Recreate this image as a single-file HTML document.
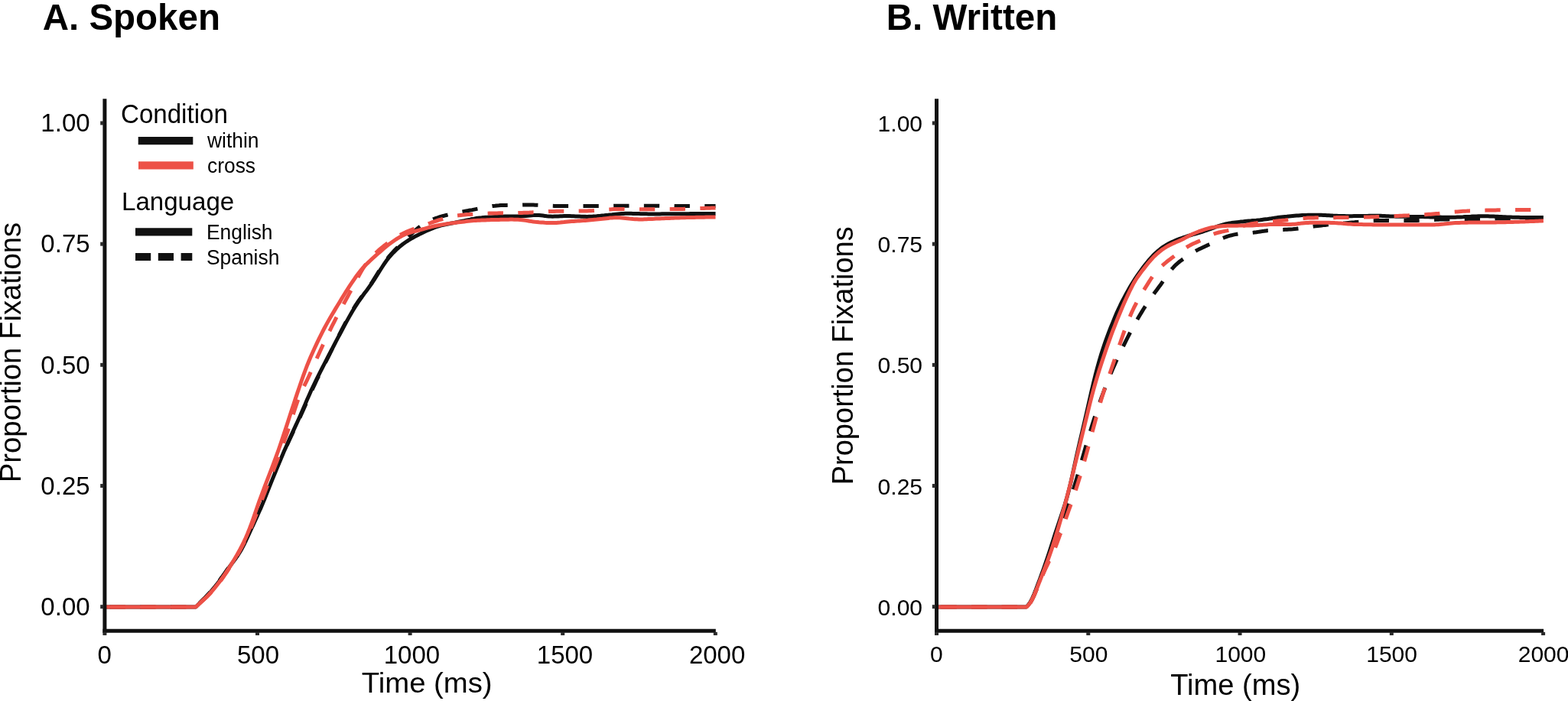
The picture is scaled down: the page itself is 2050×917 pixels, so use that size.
<!DOCTYPE html>
<html lang="en"><head><meta charset="utf-8"><title>Proportion Fixations</title>
<style>
html,body{margin:0;padding:0;background:#fff;}
body{width:2050px;height:917px;overflow:hidden;}
svg{display:block;font-family:"Liberation Sans", Arial, Helvetica, sans-serif;}
</style></head><body>
<svg width="2050" height="917" viewBox="0 0 2050 917">
<rect width="2050" height="917" fill="#fff"/>
<text transform="translate(55.70,39.30) scale(1.0,1.03)" font-size="47.5" text-anchor="start" font-weight="bold" fill="#000">A. Spoken</text>
<path d="M136.9,794.0 L256.0,793.9 L258.5,791.3 L261.0,788.8 L263.5,786.3 L266.0,783.9 L268.5,781.4 L271.0,778.7 L273.6,775.9 L276.1,773.0 L278.6,770.0 L281.1,766.9 L283.6,763.7 L286.1,760.5 L288.6,757.1 L291.1,753.6 L293.6,750.1 L296.1,746.5 L298.6,743.0 L301.1,739.5 L303.6,736.0 L306.1,732.6 L308.7,729.0 L311.2,725.3 L313.7,721.2 L316.2,716.8 L318.7,711.9 L321.2,706.7 L323.7,701.4 L326.2,695.9 L328.7,690.4 L331.2,685.0 L333.7,679.5 L336.2,674.0 L338.7,668.3 L341.3,662.5 L343.8,656.5 L346.3,650.4 L348.8,644.1 L351.3,637.8 L353.8,631.6 L356.3,625.4 L358.8,619.4 L361.3,613.4 L363.8,607.6 L366.3,601.8 L368.8,596.2 L371.3,590.6 L373.8,585.1 L376.4,579.7 L378.9,574.3 L381.4,568.9 L383.9,563.5 L386.4,558.2 L388.9,552.9 L391.4,547.5 L393.9,542.0 L396.4,536.4 L398.9,530.7 L401.4,525.0 L403.9,519.2 L406.4,513.5 L409.0,508.0 L411.5,502.6 L414.0,497.3 L416.5,492.1 L419.0,487.0 L421.5,482.0 L424.0,477.0 L426.5,472.1 L429.0,467.1 L431.5,462.1 L434.0,457.0 L436.5,452.0 L439.0,446.9 L441.5,441.9 L444.1,436.9 L446.6,432.0 L449.1,427.2 L451.6,422.5 L454.1,417.8 L456.6,413.3 L459.1,409.0 L461.6,404.8 L464.1,400.7 L466.6,396.9 L469.1,393.2 L471.6,389.7 L474.1,386.3 L476.6,382.9 L479.2,379.5 L481.7,376.0 L484.2,372.5 L486.7,368.8 L489.2,364.9 L491.7,360.9 L494.2,356.9 L496.7,352.8 L499.2,348.9 L501.7,345.1 L504.2,341.5 L506.7,338.1 L509.2,334.9 L511.8,331.9 L514.3,329.2 L516.8,326.5 L519.3,324.0 L521.8,321.6 L524.3,319.2 L526.8,316.8 L529.3,314.4 L531.8,311.9 L534.3,309.5 L536.8,307.0 L539.3,304.6 L541.8,302.3 L544.3,300.1 L546.9,298.0 L549.4,296.2 L551.9,294.4 L554.4,292.8 L556.9,291.3 L559.4,290.0 L561.9,288.8 L564.4,287.6 L566.9,286.6 L569.4,285.7 L571.9,284.8 L574.4,284.0 L576.9,283.2 L579.5,282.5 L582.0,281.8 L584.5,281.2 L587.0,280.5 L589.5,280.0 L592.0,279.4 L594.5,278.9 L597.0,278.3 L599.5,277.8 L602.0,277.3 L604.5,276.9 L607.0,276.4 L609.5,275.9 L612.0,275.5 L614.6,275.0 L617.1,274.6 L619.6,274.1 L622.1,273.6 L624.6,273.1 L627.1,272.6 L629.6,272.0 L632.1,271.5 L634.6,271.1 L637.1,270.6 L639.6,270.2 L642.1,269.8 L644.6,269.4 L647.2,269.2 L649.7,268.9 L652.2,268.8 L654.7,268.6 L657.2,268.5 L659.7,268.5 L662.2,268.4 L664.7,268.3 L667.2,268.3 L669.7,268.2 L672.2,268.2 L674.7,268.2 L677.2,268.1 L679.7,268.1 L682.3,268.1 L684.8,268.0 L687.3,268.0 L689.8,268.0 L692.3,268.0 L694.8,268.1 L697.3,268.1 L699.8,268.2 L702.3,268.3 L704.8,268.4 L707.3,268.5 L709.8,268.6 L712.3,268.8 L714.9,268.9 L717.4,269.0 L719.9,269.2 L722.4,269.3 L724.9,269.4 L727.4,269.5 L729.9,269.5 L732.4,269.6 L734.9,269.6 L737.4,269.6 L739.9,269.6 L742.4,269.6 L744.9,269.6 L747.4,269.6 L750.0,269.6 L752.5,269.6 L755.0,269.6 L757.5,269.6 L760.0,269.5 L762.5,269.5 L765.0,269.5 L767.5,269.5 L770.0,269.5 L772.5,269.5 L775.0,269.5 L777.5,269.5 L780.0,269.4 L782.5,269.4 L785.1,269.4 L787.6,269.4 L790.1,269.4 L792.6,269.3 L795.1,269.3 L797.6,269.3 L800.1,269.3 L802.6,269.2 L805.1,269.2 L807.6,269.2 L810.1,269.2 L812.6,269.2 L815.1,269.2 L817.7,269.2 L820.2,269.2 L822.7,269.2 L825.2,269.2 L827.7,269.2 L830.2,269.2 L832.7,269.2 L835.2,269.2 L837.7,269.2 L840.2,269.2 L842.7,269.2 L845.2,269.2 L847.7,269.2 L850.2,269.2 L852.8,269.2 L855.3,269.2 L857.8,269.2 L860.3,269.2 L862.8,269.3 L865.3,269.3 L867.8,269.3 L870.3,269.3 L872.8,269.4 L875.3,269.4 L877.8,269.4 L880.3,269.4 L882.8,269.5 L885.4,269.5 L887.9,269.5 L890.4,269.5 L892.9,269.5 L895.4,269.5 L897.9,269.5 L900.4,269.5 L902.9,269.5 L905.4,269.5 L907.9,269.5 L910.4,269.5 L912.9,269.5 L915.4,269.5 L917.9,269.5 L920.5,269.5 L923.0,269.5 L925.5,269.5 L928.0,269.5 L930.5,269.5 L933.0,269.5 L935.5,269.5" stroke="#111111" stroke-width="5.0" fill="none" stroke-linejoin="round" stroke-dasharray="20.3,19.4" stroke-dashoffset="33.0"/>
<path d="M136.9,794.0 L256.0,793.9 L258.5,791.4 L261.0,788.9 L263.5,786.5 L266.0,784.1 L268.5,781.6 L271.0,779.0 L273.6,776.2 L276.1,773.4 L278.6,770.4 L281.1,767.4 L283.6,764.2 L286.1,761.0 L288.6,757.6 L291.1,754.2 L293.6,750.6 L296.1,747.1 L298.6,743.5 L301.1,740.1 L303.6,736.6 L306.1,733.2 L308.7,729.7 L311.2,726.0 L313.7,722.0 L316.2,717.7 L318.7,712.9 L321.2,707.8 L323.7,702.4 L326.2,697.0 L328.7,691.5 L331.2,686.1 L333.7,680.6 L336.2,675.2 L338.7,669.6 L341.3,663.9 L343.8,657.9 L346.3,651.7 L348.8,645.4 L351.3,639.1 L353.8,632.8 L356.3,626.6 L358.8,620.5 L361.3,614.4 L363.8,608.4 L366.3,602.4 L368.8,596.5 L371.3,590.6 L373.8,584.9 L376.4,579.2 L378.9,573.6 L381.4,568.0 L383.9,562.6 L386.4,557.1 L388.9,551.7 L391.4,546.2 L393.9,540.6 L396.4,534.8 L398.9,529.0 L401.4,523.1 L403.9,517.4 L406.4,511.7 L409.0,506.3 L411.5,501.0 L414.0,495.9 L416.5,490.8 L419.0,485.9 L421.5,481.0 L424.0,476.2 L426.5,471.3 L429.0,466.5 L431.5,461.7 L434.0,456.8 L436.5,452.0 L439.0,447.1 L441.5,442.3 L444.1,437.5 L446.6,432.8 L449.1,428.1 L451.6,423.4 L454.1,418.9 L456.6,414.4 L459.1,410.0 L461.6,405.8 L464.1,401.7 L466.6,397.8 L469.1,394.0 L471.6,390.5 L474.1,387.0 L476.6,383.6 L479.2,380.2 L481.7,376.8 L484.2,373.3 L486.7,369.7 L489.2,365.9 L491.7,361.9 L494.2,357.9 L496.7,353.9 L499.2,350.0 L501.7,346.2 L504.2,342.5 L506.7,339.1 L509.2,336.0 L511.8,333.1 L514.3,330.4 L516.8,327.9 L519.3,325.5 L521.8,323.3 L524.3,321.3 L526.8,319.3 L529.3,317.5 L531.8,315.8 L534.3,314.2 L536.8,312.6 L539.3,311.2 L541.8,309.8 L544.3,308.5 L546.9,307.2 L549.4,305.9 L551.9,304.7 L554.4,303.5 L556.9,302.3 L559.4,301.2 L561.9,300.1 L564.4,299.1 L566.9,298.1 L569.4,297.2 L571.9,296.4 L574.4,295.6 L576.9,294.9 L579.5,294.3 L582.0,293.7 L584.5,293.2 L587.0,292.7 L589.5,292.2 L592.0,291.7 L594.5,291.3 L597.0,290.8 L599.5,290.3 L602.0,289.8 L604.5,289.3 L607.0,288.8 L609.5,288.2 L612.0,287.6 L614.6,287.1 L617.1,286.5 L619.6,286.1 L622.1,285.6 L624.6,285.3 L627.1,285.0 L629.6,284.8 L632.1,284.5 L634.6,284.3 L637.1,284.2 L639.6,284.0 L642.1,283.9 L644.6,283.7 L647.2,283.6 L649.7,283.5 L652.2,283.4 L654.7,283.3 L657.2,283.2 L659.7,283.1 L662.2,283.0 L664.7,282.9 L667.2,282.9 L669.7,282.9 L672.2,282.9 L674.7,282.9 L677.2,282.9 L679.7,282.9 L682.3,282.8 L684.8,282.6 L687.3,282.5 L689.8,282.2 L692.3,282.0 L694.8,281.7 L697.3,281.5 L699.8,281.4 L702.3,281.4 L704.8,281.5 L707.3,281.8 L709.8,282.1 L712.3,282.4 L714.9,282.8 L717.4,283.0 L719.9,283.1 L722.4,283.2 L724.9,283.1 L727.4,283.1 L729.9,282.9 L732.4,282.8 L734.9,282.7 L737.4,282.6 L739.9,282.6 L742.4,282.6 L744.9,282.6 L747.4,282.7 L750.0,282.8 L752.5,282.9 L755.0,283.0 L757.5,283.1 L760.0,283.2 L762.5,283.3 L765.0,283.3 L767.5,283.4 L770.0,283.3 L772.5,283.2 L775.0,283.1 L777.5,282.9 L780.0,282.7 L782.5,282.4 L785.1,282.2 L787.6,281.9 L790.1,281.7 L792.6,281.4 L795.1,281.2 L797.6,280.9 L800.1,280.7 L802.6,280.4 L805.1,280.2 L807.6,280.0 L810.1,279.8 L812.6,279.6 L815.1,279.4 L817.7,279.3 L820.2,279.3 L822.7,279.3 L825.2,279.3 L827.7,279.4 L830.2,279.4 L832.7,279.5 L835.2,279.6 L837.7,279.7 L840.2,279.7 L842.7,279.8 L845.2,279.8 L847.7,279.9 L850.2,279.9 L852.8,279.9 L855.3,279.9 L857.8,279.9 L860.3,279.9 L862.8,279.9 L865.3,279.8 L867.8,279.8 L870.3,279.8 L872.8,279.8 L875.3,279.8 L877.8,279.8 L880.3,279.8 L882.8,279.7 L885.4,279.7 L887.9,279.7 L890.4,279.7 L892.9,279.7 L895.4,279.7 L897.9,279.7 L900.4,279.7 L902.9,279.6 L905.4,279.6 L907.9,279.6 L910.4,279.6 L912.9,279.6 L915.4,279.6 L917.9,279.6 L920.5,279.6 L923.0,279.6 L925.5,279.5 L928.0,279.5 L930.5,279.5 L933.0,279.5 L935.5,279.5" stroke="#111111" stroke-width="5.0" fill="none" stroke-linejoin="round"/>
<path d="M136.9,794.0 L256.0,793.9 L258.5,791.6 L261.0,789.3 L263.5,787.0 L266.0,784.8 L268.5,782.5 L271.0,780.1 L273.6,777.5 L276.1,774.8 L278.6,771.9 L281.1,769.0 L283.6,765.9 L286.1,762.7 L288.6,759.4 L291.1,756.0 L293.6,752.4 L296.1,748.8 L298.6,745.0 L301.1,741.1 L303.6,737.2 L306.1,733.0 L308.7,728.8 L311.2,724.5 L313.7,720.0 L316.2,715.4 L318.7,710.6 L321.2,705.6 L323.7,700.4 L326.2,694.8 L328.7,688.9 L331.2,682.8 L333.7,676.5 L336.2,670.0 L338.7,663.4 L341.3,656.8 L343.8,650.2 L346.3,643.6 L348.8,637.1 L351.3,630.7 L353.8,624.3 L356.3,617.9 L358.8,611.5 L361.3,605.0 L363.8,598.5 L366.3,591.8 L368.8,585.0 L371.3,577.9 L373.8,570.7 L376.4,563.3 L378.9,555.7 L381.4,547.9 L383.9,540.1 L386.4,532.4 L388.9,525.2 L391.4,518.6 L393.9,512.8 L396.4,507.5 L398.9,502.4 L401.4,497.3 L403.9,492.0 L406.4,486.4 L409.0,480.8 L411.5,475.0 L414.0,469.3 L416.5,463.7 L419.0,458.2 L421.5,452.7 L424.0,447.4 L426.5,442.1 L429.0,436.9 L431.5,431.8 L434.0,426.7 L436.5,421.8 L439.0,416.9 L441.5,412.1 L444.1,407.3 L446.6,402.6 L449.1,398.0 L451.6,393.3 L454.1,388.7 L456.6,384.1 L459.1,379.5 L461.6,374.9 L464.1,370.2 L466.6,365.5 L469.1,360.8 L471.6,356.2 L474.1,352.0 L476.6,348.1 L479.2,344.6 L481.7,341.4 L484.2,338.4 L486.7,335.7 L489.2,333.1 L491.7,330.6 L494.2,328.2 L496.7,326.0 L499.2,323.9 L501.7,321.8 L504.2,319.9 L506.7,318.0 L509.2,316.2 L511.8,314.4 L514.3,312.7 L516.8,311.1 L519.3,309.6 L521.8,308.1 L524.3,306.7 L526.8,305.4 L529.3,304.2 L531.8,303.1 L534.3,302.1 L536.8,301.1 L539.3,300.2 L541.8,299.3 L544.3,298.4 L546.9,297.6 L549.4,296.7 L551.9,295.7 L554.4,294.8 L556.9,293.9 L559.4,292.9 L561.9,292.0 L564.4,291.0 L566.9,290.2 L569.4,289.3 L571.9,288.5 L574.4,287.7 L576.9,287.0 L579.5,286.2 L582.0,285.5 L584.5,284.8 L587.0,284.2 L589.5,283.6 L592.0,283.0 L594.5,282.5 L597.0,282.1 L599.5,281.8 L602.0,281.5 L604.5,281.2 L607.0,281.0 L609.5,280.8 L612.0,280.6 L614.6,280.4 L617.1,280.3 L619.6,280.1 L622.1,280.0 L624.6,279.8 L627.1,279.7 L629.6,279.6 L632.1,279.4 L634.6,279.3 L637.1,279.2 L639.6,279.1 L642.1,279.1 L644.6,279.0 L647.2,278.9 L649.7,278.9 L652.2,278.8 L654.7,278.8 L657.2,278.7 L659.7,278.7 L662.2,278.7 L664.7,278.6 L667.2,278.6 L669.7,278.6 L672.2,278.6 L674.7,278.5 L677.2,278.5 L679.7,278.4 L682.3,278.4 L684.8,278.3 L687.3,278.3 L689.8,278.2 L692.3,278.1 L694.8,277.9 L697.3,277.8 L699.8,277.7 L702.3,277.5 L704.8,277.4 L707.3,277.2 L709.8,277.1 L712.3,276.9 L714.9,276.8 L717.4,276.6 L719.9,276.5 L722.4,276.4 L724.9,276.4 L727.4,276.3 L729.9,276.3 L732.4,276.3 L734.9,276.2 L737.4,276.2 L739.9,276.2 L742.4,276.2 L744.9,276.2 L747.4,276.2 L750.0,276.2 L752.5,276.1 L755.0,276.1 L757.5,276.1 L760.0,276.1 L762.5,276.0 L765.0,276.0 L767.5,275.9 L770.0,275.8 L772.5,275.7 L775.0,275.6 L777.5,275.4 L780.0,275.2 L782.5,275.0 L785.1,274.8 L787.6,274.6 L790.1,274.4 L792.6,274.2 L795.1,274.0 L797.6,273.9 L800.1,273.7 L802.6,273.6 L805.1,273.6 L807.6,273.5 L810.1,273.5 L812.6,273.5 L815.1,273.5 L817.7,273.6 L820.2,273.6 L822.7,273.6 L825.2,273.6 L827.7,273.7 L830.2,273.7 L832.7,273.7 L835.2,273.7 L837.7,273.8 L840.2,273.8 L842.7,273.8 L845.2,273.8 L847.7,273.8 L850.2,273.8 L852.8,273.8 L855.3,273.8 L857.8,273.8 L860.3,273.8 L862.8,273.7 L865.3,273.7 L867.8,273.7 L870.3,273.7 L872.8,273.7 L875.3,273.6 L877.8,273.6 L880.3,273.6 L882.8,273.5 L885.4,273.5 L887.9,273.5 L890.4,273.4 L892.9,273.4 L895.4,273.3 L897.9,273.2 L900.4,273.1 L902.9,273.1 L905.4,273.0 L907.9,272.9 L910.4,272.8 L912.9,272.7 L915.4,272.6 L917.9,272.5 L920.5,272.4 L923.0,272.3 L925.5,272.2 L928.0,272.2 L930.5,272.1 L933.0,272.1 L935.5,272.0" stroke="#ED5147" stroke-width="5.0" fill="none" stroke-linejoin="round" stroke-dasharray="20.3,19.4" stroke-dashoffset="32.1"/>
<path d="M136.9,794.0 L256.0,793.9 L258.5,791.6 L261.0,789.3 L263.5,787.0 L266.0,784.7 L268.5,782.4 L271.0,779.9 L273.6,777.2 L276.1,774.5 L278.6,771.6 L281.1,768.6 L283.6,765.5 L286.1,762.3 L288.6,758.9 L291.1,755.5 L293.6,751.9 L296.1,748.2 L298.6,744.3 L301.1,740.4 L303.6,736.3 L306.1,732.2 L308.7,727.9 L311.2,723.4 L313.7,718.9 L316.2,714.1 L318.7,709.1 L321.2,703.7 L323.7,697.9 L326.2,691.7 L328.7,685.0 L331.2,678.0 L333.7,670.8 L336.2,663.5 L338.7,656.4 L341.3,649.4 L343.8,642.6 L346.3,636.0 L348.8,629.5 L351.3,623.0 L353.8,616.5 L356.3,609.9 L358.8,603.2 L361.3,596.4 L363.8,589.5 L366.3,582.3 L368.8,574.9 L371.3,567.4 L373.8,559.7 L376.4,551.9 L378.9,544.1 L381.4,536.3 L383.9,528.7 L386.4,521.1 L388.9,513.6 L391.4,506.3 L393.9,499.0 L396.4,491.9 L398.9,485.0 L401.4,478.4 L403.9,472.2 L406.4,466.2 L409.0,460.5 L411.5,454.9 L414.0,449.6 L416.5,444.4 L419.0,439.3 L421.5,434.3 L424.0,429.5 L426.5,424.9 L429.0,420.4 L431.5,416.0 L434.0,411.7 L436.5,407.6 L439.0,403.4 L441.5,399.3 L444.1,395.1 L446.6,390.9 L449.1,386.8 L451.6,382.7 L454.1,378.8 L456.6,374.9 L459.1,371.1 L461.6,367.5 L464.1,363.8 L466.6,360.3 L469.1,357.0 L471.6,353.8 L474.1,350.8 L476.6,348.1 L479.2,345.5 L481.7,343.1 L484.2,340.7 L486.7,338.4 L489.2,336.2 L491.7,333.9 L494.2,331.7 L496.7,329.5 L499.2,327.3 L501.7,325.1 L504.2,323.0 L506.7,321.0 L509.2,319.1 L511.8,317.3 L514.3,315.5 L516.8,313.8 L519.3,312.1 L521.8,310.6 L524.3,309.2 L526.8,307.9 L529.3,306.8 L531.8,305.8 L534.3,304.9 L536.8,304.1 L539.3,303.4 L541.8,302.7 L544.3,302.0 L546.9,301.3 L549.4,300.6 L551.9,300.0 L554.4,299.3 L556.9,298.6 L559.4,297.9 L561.9,297.3 L564.4,296.6 L566.9,296.0 L569.4,295.5 L571.9,295.0 L574.4,294.5 L576.9,294.0 L579.5,293.6 L582.0,293.2 L584.5,292.8 L587.0,292.4 L589.5,292.0 L592.0,291.7 L594.5,291.4 L597.0,291.1 L599.5,290.8 L602.0,290.5 L604.5,290.2 L607.0,289.9 L609.5,289.6 L612.0,289.3 L614.6,289.1 L617.1,288.8 L619.6,288.6 L622.1,288.4 L624.6,288.3 L627.1,288.2 L629.6,288.0 L632.1,287.9 L634.6,287.9 L637.1,287.8 L639.6,287.7 L642.1,287.6 L644.6,287.6 L647.2,287.5 L649.7,287.4 L652.2,287.4 L654.7,287.3 L657.2,287.3 L659.7,287.2 L662.2,287.2 L664.7,287.2 L667.2,287.1 L669.7,287.1 L672.2,287.2 L674.7,287.2 L677.2,287.3 L679.7,287.5 L682.3,287.7 L684.8,288.0 L687.3,288.4 L689.8,288.8 L692.3,289.3 L694.8,289.6 L697.3,290.0 L699.8,290.3 L702.3,290.5 L704.8,290.8 L707.3,291.0 L709.8,291.1 L712.3,291.3 L714.9,291.4 L717.4,291.5 L719.9,291.6 L722.4,291.6 L724.9,291.5 L727.4,291.4 L729.9,291.2 L732.4,291.0 L734.9,290.7 L737.4,290.5 L739.9,290.2 L742.4,290.0 L744.9,289.8 L747.4,289.6 L750.0,289.4 L752.5,289.2 L755.0,289.1 L757.5,288.9 L760.0,288.7 L762.5,288.6 L765.0,288.4 L767.5,288.2 L770.0,288.0 L772.5,287.8 L775.0,287.6 L777.5,287.3 L780.0,287.1 L782.5,286.8 L785.1,286.5 L787.6,286.3 L790.1,286.0 L792.6,285.7 L795.1,285.4 L797.6,285.1 L800.1,284.9 L802.6,284.7 L805.1,284.6 L807.6,284.7 L810.1,284.8 L812.6,285.0 L815.1,285.2 L817.7,285.5 L820.2,285.8 L822.7,286.1 L825.2,286.3 L827.7,286.6 L830.2,286.7 L832.7,286.8 L835.2,286.9 L837.7,286.9 L840.2,286.9 L842.7,286.8 L845.2,286.7 L847.7,286.6 L850.2,286.5 L852.8,286.4 L855.3,286.3 L857.8,286.1 L860.3,286.0 L862.8,285.9 L865.3,285.8 L867.8,285.7 L870.3,285.5 L872.8,285.4 L875.3,285.4 L877.8,285.3 L880.3,285.2 L882.8,285.1 L885.4,285.0 L887.9,284.9 L890.4,284.8 L892.9,284.7 L895.4,284.7 L897.9,284.6 L900.4,284.5 L902.9,284.5 L905.4,284.4 L907.9,284.4 L910.4,284.3 L912.9,284.3 L915.4,284.2 L917.9,284.2 L920.5,284.2 L923.0,284.1 L925.5,284.1 L928.0,284.1 L930.5,284.0 L933.0,284.0 L935.5,284.0" stroke="#ED5147" stroke-width="5.0" fill="none" stroke-linejoin="round"/>
<path d="M1224.5,794.0 L1342.2,793.9 L1344.7,791.4 L1347.2,788.1 L1349.7,783.7 L1352.2,778.4 L1354.7,772.3 L1357.2,766.0 L1359.7,759.9 L1362.2,753.8 L1364.7,747.8 L1367.2,741.9 L1369.7,735.9 L1372.2,729.8 L1374.7,723.5 L1377.2,716.8 L1379.7,709.8 L1382.2,702.5 L1384.7,695.2 L1387.2,688.0 L1389.7,680.7 L1392.3,673.5 L1394.8,666.2 L1397.3,658.8 L1399.8,651.2 L1402.3,643.4 L1404.8,635.4 L1407.3,627.1 L1409.8,618.5 L1412.3,609.7 L1414.8,600.8 L1417.3,591.9 L1419.8,583.1 L1422.3,574.5 L1424.8,566.1 L1427.3,558.0 L1429.8,550.1 L1432.3,542.5 L1434.8,535.1 L1437.3,527.9 L1439.8,520.9 L1442.3,514.0 L1444.8,507.4 L1447.3,500.9 L1449.8,494.6 L1452.3,488.5 L1454.8,482.6 L1457.3,476.9 L1459.8,471.3 L1462.3,465.9 L1464.8,460.6 L1467.3,455.4 L1469.8,450.3 L1472.3,445.3 L1474.8,440.4 L1477.3,435.5 L1479.8,430.7 L1482.3,426.1 L1484.8,421.5 L1487.4,417.0 L1489.9,412.7 L1492.4,408.6 L1494.9,404.5 L1497.4,400.6 L1499.9,396.8 L1502.4,393.1 L1504.9,389.5 L1507.4,386.0 L1509.9,382.6 L1512.4,379.2 L1514.9,375.8 L1517.4,372.4 L1519.9,368.9 L1522.4,365.3 L1524.9,361.7 L1527.4,358.1 L1529.9,354.7 L1532.4,351.6 L1534.9,348.8 L1537.4,346.3 L1539.9,344.1 L1542.4,342.0 L1544.9,340.2 L1547.4,338.4 L1549.9,336.7 L1552.4,335.0 L1554.9,333.4 L1557.4,331.8 L1559.9,330.2 L1562.4,328.8 L1564.9,327.4 L1567.4,326.1 L1569.9,324.9 L1572.4,323.7 L1574.9,322.6 L1577.4,321.4 L1579.9,320.3 L1582.4,319.2 L1585.0,318.1 L1587.5,316.8 L1590.0,315.6 L1592.5,314.4 L1595.0,313.2 L1597.5,312.0 L1600.0,311.0 L1602.5,310.0 L1605.0,309.2 L1607.5,308.4 L1610.0,307.8 L1612.5,307.1 L1615.0,306.6 L1617.5,306.2 L1620.0,305.8 L1622.5,305.5 L1625.0,305.3 L1627.5,305.1 L1630.0,304.9 L1632.5,304.7 L1635.0,304.6 L1637.5,304.4 L1640.0,304.1 L1642.5,303.8 L1645.0,303.4 L1647.5,303.0 L1650.0,302.6 L1652.5,302.3 L1655.0,301.9 L1657.5,301.6 L1660.0,301.4 L1662.5,301.2 L1665.0,301.1 L1667.5,300.9 L1670.0,300.8 L1672.5,300.7 L1675.0,300.6 L1677.5,300.5 L1680.1,300.3 L1682.6,300.2 L1685.1,300.0 L1687.6,299.9 L1690.1,299.7 L1692.6,299.4 L1695.1,299.2 L1697.6,298.9 L1700.1,298.6 L1702.6,298.2 L1705.1,297.9 L1707.6,297.5 L1710.1,297.2 L1712.6,296.8 L1715.1,296.5 L1717.6,296.1 L1720.1,295.8 L1722.6,295.5 L1725.1,295.2 L1727.6,294.9 L1730.1,294.6 L1732.6,294.4 L1735.1,294.1 L1737.6,293.8 L1740.1,293.6 L1742.6,293.3 L1745.1,293.1 L1747.6,292.9 L1750.1,292.6 L1752.6,292.4 L1755.1,292.2 L1757.6,292.0 L1760.1,291.7 L1762.6,291.5 L1765.1,291.3 L1767.6,291.1 L1770.1,290.9 L1772.6,290.6 L1775.1,290.4 L1777.7,290.2 L1780.2,289.9 L1782.7,289.7 L1785.2,289.5 L1787.7,289.3 L1790.2,289.1 L1792.7,288.9 L1795.2,288.7 L1797.7,288.6 L1800.2,288.5 L1802.7,288.5 L1805.2,288.4 L1807.7,288.4 L1810.2,288.4 L1812.7,288.4 L1815.2,288.4 L1817.7,288.5 L1820.2,288.5 L1822.7,288.5 L1825.2,288.5 L1827.7,288.5 L1830.2,288.5 L1832.7,288.6 L1835.2,288.6 L1837.7,288.6 L1840.2,288.6 L1842.7,288.6 L1845.2,288.6 L1847.7,288.5 L1850.2,288.5 L1852.7,288.4 L1855.2,288.3 L1857.7,288.2 L1860.2,288.1 L1862.7,288.0 L1865.2,287.9 L1867.7,287.7 L1870.2,287.6 L1872.7,287.5 L1875.3,287.4 L1877.8,287.3 L1880.3,287.2 L1882.8,287.1 L1885.3,287.0 L1887.8,287.0 L1890.3,286.9 L1892.8,286.9 L1895.3,286.8 L1897.8,286.8 L1900.3,286.8 L1902.8,286.7 L1905.3,286.7 L1907.8,286.7 L1910.3,286.7 L1912.8,286.6 L1915.3,286.6 L1917.8,286.6 L1920.3,286.5 L1922.8,286.5 L1925.3,286.5 L1927.8,286.5 L1930.3,286.4 L1932.8,286.4 L1935.3,286.4 L1937.8,286.3 L1940.3,286.3 L1942.8,286.3 L1945.3,286.2 L1947.8,286.2 L1950.3,286.2 L1952.8,286.1 L1955.3,286.1 L1957.8,286.1 L1960.3,286.1 L1962.8,286.0 L1965.3,286.0 L1967.8,286.0 L1970.4,285.9 L1972.9,285.9 L1975.4,285.9 L1977.9,285.9 L1980.4,285.8 L1982.9,285.8 L1985.4,285.8 L1987.9,285.8 L1990.4,285.7 L1992.9,285.7 L1995.4,285.7 L1997.9,285.7 L2000.4,285.7 L2002.9,285.6 L2005.4,285.6 L2007.9,285.6 L2010.4,285.6 L2012.9,285.5 L2015.4,285.5 L2017.9,285.5" stroke="#111111" stroke-width="5.0" fill="none" stroke-linejoin="round" stroke-dasharray="20.3,19.4" stroke-dashoffset="33.9"/>
<path d="M1224.5,794.0 L1342.0,793.9 L1344.5,791.2 L1347.0,787.6 L1349.5,782.8 L1352.0,777.2 L1354.5,770.8 L1357.0,764.2 L1359.5,757.5 L1362.0,750.7 L1364.5,743.8 L1367.0,736.7 L1369.5,729.4 L1372.0,721.8 L1374.5,714.1 L1377.0,706.2 L1379.5,698.3 L1382.1,690.6 L1384.6,683.1 L1387.1,675.6 L1389.6,668.1 L1392.1,660.3 L1394.6,651.8 L1397.1,642.5 L1399.6,632.3 L1402.1,621.2 L1404.6,609.8 L1407.1,598.3 L1409.6,587.2 L1412.1,576.4 L1414.6,565.8 L1417.1,555.1 L1419.6,544.3 L1422.1,533.3 L1424.6,522.2 L1427.1,511.3 L1429.6,500.7 L1432.1,490.6 L1434.6,481.1 L1437.1,472.2 L1439.6,463.8 L1442.1,456.0 L1444.6,448.6 L1447.1,441.5 L1449.6,434.8 L1452.1,428.4 L1454.7,422.1 L1457.2,416.0 L1459.7,410.1 L1462.2,404.5 L1464.7,399.2 L1467.2,394.2 L1469.7,389.4 L1472.2,384.7 L1474.7,380.2 L1477.2,375.8 L1479.7,371.5 L1482.2,367.5 L1484.7,363.6 L1487.2,359.9 L1489.7,356.4 L1492.2,352.9 L1494.7,349.6 L1497.2,346.3 L1499.7,343.2 L1502.2,340.2 L1504.7,337.4 L1507.2,334.6 L1509.7,332.1 L1512.2,329.8 L1514.7,327.6 L1517.2,325.6 L1519.7,323.7 L1522.2,322.1 L1524.7,320.5 L1527.2,319.1 L1529.8,317.8 L1532.3,316.6 L1534.8,315.5 L1537.3,314.4 L1539.8,313.4 L1542.3,312.4 L1544.8,311.5 L1547.3,310.6 L1549.8,309.8 L1552.3,309.0 L1554.8,308.2 L1557.3,307.5 L1559.8,306.7 L1562.3,306.0 L1564.8,305.3 L1567.3,304.6 L1569.8,303.8 L1572.3,303.0 L1574.8,302.2 L1577.3,301.4 L1579.8,300.5 L1582.3,299.6 L1584.8,298.7 L1587.3,297.8 L1589.8,296.8 L1592.3,295.9 L1594.8,295.1 L1597.3,294.3 L1599.8,293.6 L1602.3,293.0 L1604.9,292.5 L1607.4,292.0 L1609.9,291.6 L1612.4,291.3 L1614.9,291.0 L1617.4,290.7 L1619.9,290.4 L1622.4,290.1 L1624.9,289.9 L1627.4,289.6 L1629.9,289.3 L1632.4,289.1 L1634.9,288.9 L1637.4,288.6 L1639.9,288.4 L1642.4,288.2 L1644.9,287.9 L1647.4,287.7 L1649.9,287.4 L1652.4,287.1 L1654.9,286.8 L1657.4,286.5 L1659.9,286.1 L1662.4,285.8 L1664.9,285.4 L1667.4,285.0 L1669.9,284.6 L1672.4,284.3 L1674.9,284.0 L1677.4,283.7 L1680.0,283.4 L1682.5,283.2 L1685.0,282.9 L1687.5,282.7 L1690.0,282.5 L1692.5,282.3 L1695.0,282.1 L1697.5,282.0 L1700.0,281.8 L1702.5,281.6 L1705.0,281.5 L1707.5,281.4 L1710.0,281.3 L1712.5,281.2 L1715.0,281.2 L1717.5,281.2 L1720.0,281.2 L1722.5,281.2 L1725.0,281.3 L1727.5,281.3 L1730.0,281.4 L1732.5,281.5 L1735.0,281.7 L1737.5,281.8 L1740.0,281.9 L1742.5,282.1 L1745.0,282.2 L1747.5,282.3 L1750.0,282.4 L1752.5,282.5 L1755.1,282.6 L1757.6,282.6 L1760.1,282.7 L1762.6,282.7 L1765.1,282.7 L1767.6,282.7 L1770.1,282.6 L1772.6,282.6 L1775.1,282.6 L1777.6,282.5 L1780.1,282.5 L1782.6,282.4 L1785.1,282.4 L1787.6,282.4 L1790.1,282.3 L1792.6,282.3 L1795.1,282.3 L1797.6,282.3 L1800.1,282.2 L1802.6,282.3 L1805.1,282.3 L1807.6,282.4 L1810.1,282.5 L1812.6,282.7 L1815.1,282.8 L1817.6,282.9 L1820.1,283.0 L1822.6,283.1 L1825.1,283.2 L1827.6,283.2 L1830.2,283.3 L1832.7,283.3 L1835.2,283.3 L1837.7,283.3 L1840.2,283.4 L1842.7,283.4 L1845.2,283.4 L1847.7,283.4 L1850.2,283.5 L1852.7,283.5 L1855.2,283.5 L1857.7,283.6 L1860.2,283.6 L1862.7,283.7 L1865.2,283.7 L1867.7,283.8 L1870.2,283.9 L1872.7,283.9 L1875.2,284.0 L1877.7,284.0 L1880.2,284.1 L1882.7,284.1 L1885.2,284.2 L1887.7,284.2 L1890.2,284.2 L1892.7,284.3 L1895.2,284.3 L1897.7,284.3 L1900.2,284.2 L1902.7,284.2 L1905.2,284.1 L1907.8,284.0 L1910.3,283.9 L1912.8,283.8 L1915.3,283.6 L1917.8,283.5 L1920.3,283.4 L1922.8,283.3 L1925.3,283.1 L1927.8,283.0 L1930.3,282.9 L1932.8,282.8 L1935.3,282.8 L1937.8,282.8 L1940.3,282.8 L1942.8,282.8 L1945.3,282.8 L1947.8,282.9 L1950.3,283.0 L1952.8,283.1 L1955.3,283.2 L1957.8,283.3 L1960.3,283.4 L1962.8,283.5 L1965.3,283.7 L1967.8,283.8 L1970.3,283.9 L1972.8,284.0 L1975.3,284.1 L1977.8,284.2 L1980.4,284.2 L1982.9,284.3 L1985.4,284.3 L1987.9,284.4 L1990.4,284.4 L1992.9,284.4 L1995.4,284.5 L1997.9,284.5 L2000.4,284.5 L2002.9,284.5 L2005.4,284.5 L2007.9,284.6 L2010.4,284.6 L2012.9,284.6 L2015.4,284.6 L2017.9,284.6" stroke="#111111" stroke-width="5.0" fill="none" stroke-linejoin="round"/>
<path d="M1224.5,794.0 L1342.3,793.9 L1344.8,791.3 L1347.3,787.9 L1349.8,783.5 L1352.3,778.2 L1354.8,772.1 L1357.3,765.8 L1359.8,759.9 L1362.3,754.0 L1364.8,748.4 L1367.3,743.0 L1369.8,737.8 L1372.3,732.7 L1374.8,727.4 L1377.3,721.8 L1379.8,715.8 L1382.3,709.3 L1384.8,702.5 L1387.3,695.5 L1389.8,688.6 L1392.3,681.6 L1394.8,674.6 L1397.3,667.5 L1399.9,660.4 L1402.4,653.1 L1404.9,645.7 L1407.4,638.0 L1409.9,630.1 L1412.4,621.8 L1414.9,613.3 L1417.4,604.5 L1419.9,595.4 L1422.4,586.3 L1424.9,577.0 L1427.4,567.7 L1429.9,558.4 L1432.4,549.1 L1434.9,540.0 L1437.4,531.0 L1439.9,522.4 L1442.4,514.3 L1444.9,506.5 L1447.4,499.1 L1449.9,491.8 L1452.4,484.5 L1454.9,477.1 L1457.4,469.7 L1459.9,462.2 L1462.4,454.8 L1464.9,447.5 L1467.4,440.3 L1469.9,433.2 L1472.4,426.4 L1474.9,419.9 L1477.4,413.8 L1479.9,408.0 L1482.4,402.7 L1484.9,397.8 L1487.4,393.1 L1489.9,388.7 L1492.4,384.5 L1494.9,380.4 L1497.4,376.4 L1499.9,372.4 L1502.4,368.4 L1504.9,364.5 L1507.4,360.9 L1509.9,357.6 L1512.5,354.6 L1515.0,351.9 L1517.5,349.4 L1520.0,347.1 L1522.5,344.9 L1525.0,342.8 L1527.5,340.8 L1530.0,338.9 L1532.5,337.0 L1535.0,335.2 L1537.5,333.3 L1540.0,331.5 L1542.5,329.6 L1545.0,327.8 L1547.5,326.1 L1550.0,324.4 L1552.5,322.8 L1555.0,321.4 L1557.5,320.0 L1560.0,318.8 L1562.5,317.7 L1565.0,316.6 L1567.5,315.5 L1570.0,314.4 L1572.5,313.2 L1575.0,312.0 L1577.5,310.7 L1580.0,309.4 L1582.5,308.1 L1585.0,306.9 L1587.5,305.9 L1590.0,305.0 L1592.5,304.3 L1595.0,303.7 L1597.5,303.1 L1600.0,302.6 L1602.5,302.1 L1605.0,301.6 L1607.5,301.0 L1610.0,300.3 L1612.5,299.6 L1615.0,298.8 L1617.5,298.0 L1620.0,297.2 L1622.5,296.4 L1625.1,295.6 L1627.6,294.9 L1630.1,294.2 L1632.6,293.6 L1635.1,293.0 L1637.6,292.5 L1640.1,292.1 L1642.6,291.8 L1645.1,291.4 L1647.6,291.2 L1650.1,290.9 L1652.6,290.6 L1655.1,290.4 L1657.6,290.1 L1660.1,289.9 L1662.6,289.7 L1665.1,289.5 L1667.6,289.3 L1670.1,289.0 L1672.6,288.8 L1675.1,288.6 L1677.6,288.3 L1680.1,288.1 L1682.6,287.8 L1685.1,287.5 L1687.6,287.2 L1690.1,286.9 L1692.6,286.6 L1695.1,286.3 L1697.6,286.1 L1700.1,285.8 L1702.6,285.6 L1705.1,285.4 L1707.6,285.3 L1710.1,285.1 L1712.6,285.0 L1715.1,284.9 L1717.6,284.9 L1720.1,284.8 L1722.6,284.8 L1725.1,284.8 L1727.6,284.8 L1730.1,284.8 L1732.6,284.7 L1735.1,284.7 L1737.7,284.7 L1740.2,284.7 L1742.7,284.7 L1745.2,284.7 L1747.7,284.6 L1750.2,284.6 L1752.7,284.6 L1755.2,284.6 L1757.7,284.5 L1760.2,284.5 L1762.7,284.5 L1765.2,284.4 L1767.7,284.4 L1770.2,284.3 L1772.7,284.3 L1775.2,284.2 L1777.7,284.2 L1780.2,284.1 L1782.7,284.1 L1785.2,284.0 L1787.7,283.9 L1790.2,283.9 L1792.7,283.8 L1795.2,283.7 L1797.7,283.7 L1800.2,283.6 L1802.7,283.5 L1805.2,283.4 L1807.7,283.3 L1810.2,283.2 L1812.7,283.1 L1815.2,283.0 L1817.7,282.9 L1820.2,282.8 L1822.7,282.7 L1825.2,282.6 L1827.7,282.5 L1830.2,282.3 L1832.7,282.2 L1835.2,282.1 L1837.7,282.0 L1840.2,281.9 L1842.7,281.7 L1845.2,281.6 L1847.7,281.5 L1850.3,281.4 L1852.8,281.2 L1855.3,281.1 L1857.8,281.0 L1860.3,280.8 L1862.8,280.7 L1865.3,280.5 L1867.8,280.3 L1870.3,280.2 L1872.8,280.0 L1875.3,279.8 L1877.8,279.6 L1880.3,279.4 L1882.8,279.1 L1885.3,278.9 L1887.8,278.6 L1890.3,278.3 L1892.8,278.1 L1895.3,277.8 L1897.8,277.5 L1900.3,277.3 L1902.8,277.1 L1905.3,276.9 L1907.8,276.7 L1910.3,276.5 L1912.8,276.3 L1915.3,276.2 L1917.8,276.1 L1920.3,275.9 L1922.8,275.8 L1925.3,275.7 L1927.8,275.6 L1930.3,275.5 L1932.8,275.4 L1935.3,275.3 L1937.8,275.3 L1940.3,275.2 L1942.8,275.1 L1945.3,275.1 L1947.8,275.0 L1950.3,274.9 L1952.8,274.9 L1955.3,274.9 L1957.8,274.8 L1960.3,274.8 L1962.9,274.8 L1965.4,274.7 L1967.9,274.7 L1970.4,274.7 L1972.9,274.7 L1975.4,274.6 L1977.9,274.6 L1980.4,274.6 L1982.9,274.6 L1985.4,274.6 L1987.9,274.5 L1990.4,274.5 L1992.9,274.5 L1995.4,274.5 L1997.9,274.5 L2000.4,274.4 L2002.9,274.4 L2005.4,274.4 L2007.9,274.4 L2010.4,274.4 L2012.9,274.3 L2015.4,274.3 L2017.9,274.3" stroke="#ED5147" stroke-width="5.0" fill="none" stroke-linejoin="round" stroke-dasharray="20.3,19.4" stroke-dashoffset="34.0"/>
<path d="M1224.5,794.0 L1342.3,793.9 L1344.8,791.3 L1347.3,787.9 L1349.8,783.5 L1352.3,778.1 L1354.8,771.9 L1357.3,765.4 L1359.8,759.0 L1362.3,752.6 L1364.8,746.2 L1367.3,739.7 L1369.8,733.1 L1372.3,726.2 L1374.8,719.0 L1377.3,711.3 L1379.8,703.3 L1382.3,695.0 L1384.8,686.5 L1387.3,677.9 L1389.8,669.1 L1392.3,660.1 L1394.8,650.8 L1397.3,641.0 L1399.9,630.9 L1402.4,620.5 L1404.9,610.0 L1407.4,599.6 L1409.9,589.3 L1412.4,579.0 L1414.9,568.9 L1417.4,558.6 L1419.9,548.4 L1422.4,538.1 L1424.9,528.0 L1427.4,518.2 L1429.9,508.8 L1432.4,500.0 L1434.9,491.6 L1437.4,483.6 L1439.9,475.8 L1442.4,468.2 L1444.9,460.7 L1447.4,453.4 L1449.9,446.3 L1452.4,439.4 L1454.9,432.7 L1457.4,426.3 L1459.9,419.9 L1462.4,413.7 L1464.9,407.7 L1467.4,401.8 L1469.9,396.1 L1472.4,390.5 L1474.9,385.1 L1477.4,379.8 L1479.9,374.8 L1482.4,370.1 L1484.9,366.0 L1487.4,362.2 L1489.9,358.7 L1492.4,355.3 L1494.9,352.1 L1497.4,348.9 L1499.9,345.7 L1502.4,342.7 L1504.9,339.8 L1507.4,337.1 L1509.9,334.6 L1512.5,332.2 L1515.0,330.0 L1517.5,328.0 L1520.0,326.1 L1522.5,324.5 L1525.0,322.9 L1527.5,321.5 L1530.0,320.2 L1532.5,319.0 L1535.0,317.9 L1537.5,316.8 L1540.0,315.7 L1542.5,314.6 L1545.0,313.5 L1547.5,312.2 L1550.0,310.9 L1552.5,309.5 L1555.0,308.2 L1557.5,306.9 L1560.0,305.7 L1562.5,304.7 L1565.0,303.7 L1567.5,302.7 L1570.0,301.8 L1572.5,301.0 L1575.0,300.1 L1577.5,299.3 L1580.0,298.6 L1582.5,298.0 L1585.0,297.5 L1587.5,297.1 L1590.0,296.7 L1592.5,296.3 L1595.0,296.0 L1597.5,295.7 L1600.0,295.5 L1602.5,295.4 L1605.0,295.3 L1607.5,295.2 L1610.0,295.2 L1612.5,295.2 L1615.0,295.2 L1617.5,295.2 L1620.0,295.1 L1622.5,295.1 L1625.1,295.1 L1627.6,295.1 L1630.1,295.1 L1632.6,295.0 L1635.1,295.0 L1637.6,294.9 L1640.1,294.8 L1642.6,294.6 L1645.1,294.5 L1647.6,294.3 L1650.1,294.2 L1652.6,294.0 L1655.1,293.9 L1657.6,293.7 L1660.1,293.6 L1662.6,293.6 L1665.1,293.5 L1667.6,293.5 L1670.1,293.5 L1672.6,293.5 L1675.1,293.5 L1677.6,293.5 L1680.1,293.5 L1682.6,293.5 L1685.1,293.5 L1687.6,293.4 L1690.1,293.3 L1692.6,293.2 L1695.1,292.9 L1697.6,292.6 L1700.1,292.3 L1702.6,291.9 L1705.1,291.7 L1707.6,291.5 L1710.1,291.4 L1712.6,291.3 L1715.1,291.3 L1717.6,291.3 L1720.1,291.3 L1722.6,291.3 L1725.1,291.3 L1727.6,291.3 L1730.1,291.3 L1732.6,291.3 L1735.1,291.3 L1737.7,291.3 L1740.2,291.4 L1742.7,291.4 L1745.2,291.6 L1747.7,291.7 L1750.2,291.9 L1752.7,292.1 L1755.2,292.3 L1757.7,292.5 L1760.2,292.7 L1762.7,292.9 L1765.2,293.1 L1767.7,293.3 L1770.2,293.4 L1772.7,293.5 L1775.2,293.5 L1777.7,293.6 L1780.2,293.6 L1782.7,293.7 L1785.2,293.7 L1787.7,293.8 L1790.2,293.8 L1792.7,293.8 L1795.2,293.9 L1797.7,293.9 L1800.2,293.9 L1802.7,293.9 L1805.2,293.9 L1807.7,294.0 L1810.2,294.0 L1812.7,294.0 L1815.2,294.0 L1817.7,294.0 L1820.2,294.0 L1822.7,294.0 L1825.2,294.0 L1827.7,294.0 L1830.2,294.0 L1832.7,294.0 L1835.2,294.0 L1837.7,294.0 L1840.2,294.0 L1842.7,294.0 L1845.2,294.0 L1847.7,294.0 L1850.3,294.0 L1852.8,294.0 L1855.3,294.0 L1857.8,294.0 L1860.3,294.0 L1862.8,294.0 L1865.3,294.0 L1867.8,294.0 L1870.3,294.0 L1872.8,294.0 L1875.3,293.9 L1877.8,293.8 L1880.3,293.7 L1882.8,293.5 L1885.3,293.3 L1887.8,293.1 L1890.3,292.8 L1892.8,292.5 L1895.3,292.3 L1897.8,292.0 L1900.3,291.8 L1902.8,291.6 L1905.3,291.5 L1907.8,291.4 L1910.3,291.3 L1912.8,291.2 L1915.3,291.2 L1917.8,291.2 L1920.3,291.1 L1922.8,291.1 L1925.3,291.1 L1927.8,291.1 L1930.3,291.1 L1932.8,291.0 L1935.3,291.0 L1937.8,291.0 L1940.3,291.0 L1942.8,291.0 L1945.3,291.0 L1947.8,290.9 L1950.3,290.9 L1952.8,290.9 L1955.3,290.9 L1957.8,290.8 L1960.3,290.8 L1962.9,290.8 L1965.4,290.7 L1967.9,290.7 L1970.4,290.6 L1972.9,290.6 L1975.4,290.5 L1977.9,290.4 L1980.4,290.3 L1982.9,290.3 L1985.4,290.2 L1987.9,290.1 L1990.4,290.0 L1992.9,289.9 L1995.4,289.8 L1997.9,289.7 L2000.4,289.6 L2002.9,289.5 L2005.4,289.4 L2007.9,289.3 L2010.4,289.2 L2012.9,289.0 L2015.4,288.9 L2017.9,288.8" stroke="#ED5147" stroke-width="5.0" fill="none" stroke-linejoin="round"/>
<path d="M136.90,129.37V827.84" stroke="#111111" stroke-width="5.0" fill="none"/>
<path d="M134.40,825.34H935.80" stroke="#111111" stroke-width="5.0" fill="none"/>
<path d="M131.20,793.70h4.2" stroke="#2a2a2a" stroke-width="5.0" fill="none"/>
<text transform="translate(117.60,804.91)" font-size="33" text-anchor="end" fill="#000">0.00</text>
<path d="M131.20,635.53h4.2" stroke="#2a2a2a" stroke-width="5.0" fill="none"/>
<text transform="translate(117.60,646.74)" font-size="33" text-anchor="end" fill="#000">0.25</text>
<path d="M131.20,477.35h4.2" stroke="#2a2a2a" stroke-width="5.0" fill="none"/>
<text transform="translate(117.60,488.56)" font-size="33" text-anchor="end" fill="#000">0.50</text>
<path d="M131.20,319.18h4.2" stroke="#2a2a2a" stroke-width="5.0" fill="none"/>
<text transform="translate(117.60,330.39)" font-size="33" text-anchor="end" fill="#000">0.75</text>
<path d="M131.20,161.00h4.2" stroke="#2a2a2a" stroke-width="5.0" fill="none"/>
<text transform="translate(117.60,172.21)" font-size="33" text-anchor="end" fill="#000">1.00</text>
<path d="M136.90,826.84v4.2" stroke="#2a2a2a" stroke-width="5.0" fill="none"/>
<text transform="translate(136.60,868.10)" font-size="33" text-anchor="middle" fill="#000">0</text>
<path d="M336.50,826.84v4.2" stroke="#2a2a2a" stroke-width="5.0" fill="none"/>
<text transform="translate(337.50,868.10)" font-size="33" text-anchor="middle" fill="#000">500</text>
<path d="M536.10,826.84v4.2" stroke="#2a2a2a" stroke-width="5.0" fill="none"/>
<text transform="translate(538.40,868.10)" font-size="33" text-anchor="middle" fill="#000">1000</text>
<path d="M735.70,826.84v4.2" stroke="#2a2a2a" stroke-width="5.0" fill="none"/>
<text transform="translate(738.50,868.10)" font-size="33" text-anchor="middle" fill="#000">1500</text>
<path d="M935.30,826.84v4.2" stroke="#2a2a2a" stroke-width="5.0" fill="none"/>
<text transform="translate(937.60,868.10)" font-size="33" text-anchor="middle" fill="#000">2000</text>
<text transform="translate(558.20,906.20) scale(1.0,0.975)" font-size="38.3" text-anchor="middle" fill="#000">Time (ms)</text>
<text transform="translate(26.50,461.00) rotate(-90) scale(1.0,0.99)" font-size="38.3" text-anchor="middle" fill="#000">Proportion Fixations</text>
<text transform="translate(158.00,161.20) scale(1.0,1.05)" font-size="33.1" text-anchor="start" fill="#000">Condition</text>
<path d="M180.7,184.2H252.3" stroke="#111111" stroke-width="10.2"/>
<path d="M181,216.4H252.8" stroke="#ED5147" stroke-width="10.2"/>
<text transform="translate(271.00,192.70) scale(1.0,1.03)" font-size="26.4" text-anchor="start" fill="#000">within</text>
<text transform="translate(271.00,225.90) scale(1.0,1.03)" font-size="26.4" text-anchor="start" fill="#000">cross</text>
<text transform="translate(159.00,274.50) scale(1.0,1.02)" font-size="33.1" text-anchor="start" fill="#000">Language</text>
<path d="M177,303.3H251.3" stroke="#111111" stroke-width="10.2"/>
<path d="M177,336H251.3" stroke="#111111" stroke-width="10.2" stroke-dasharray="20.2,9.6"/>
<text transform="translate(270.00,312.60) scale(1.0,1.03)" font-size="26.4" text-anchor="start" fill="#000">English</text>
<text transform="translate(270.00,346.00) scale(1.0,1.03)" font-size="26.4" text-anchor="start" fill="#000">Spanish</text>
<text transform="translate(1158.80,39.30) scale(1.0,1.03)" font-size="47.5" text-anchor="start" font-weight="bold" fill="#000">B. Written</text>
<path d="M1224.50,129.37V827.84" stroke="#111111" stroke-width="5.0" fill="none"/>
<path d="M1222.00,825.34H2018.10" stroke="#111111" stroke-width="5.0" fill="none"/>
<path d="M1218.80,793.70h4.2" stroke="#2a2a2a" stroke-width="5.0" fill="none"/>
<text transform="translate(1206.00,804.74)" font-size="30" text-anchor="end" fill="#000">0.00</text>
<path d="M1218.80,635.53h4.2" stroke="#2a2a2a" stroke-width="5.0" fill="none"/>
<text transform="translate(1206.00,646.57)" font-size="30" text-anchor="end" fill="#000">0.25</text>
<path d="M1218.80,477.35h4.2" stroke="#2a2a2a" stroke-width="5.0" fill="none"/>
<text transform="translate(1206.00,488.39)" font-size="30" text-anchor="end" fill="#000">0.50</text>
<path d="M1218.80,319.18h4.2" stroke="#2a2a2a" stroke-width="5.0" fill="none"/>
<text transform="translate(1206.00,330.22)" font-size="30" text-anchor="end" fill="#000">0.75</text>
<path d="M1218.80,161.00h4.2" stroke="#2a2a2a" stroke-width="5.0" fill="none"/>
<text transform="translate(1206.00,172.04)" font-size="30" text-anchor="end" fill="#000">1.00</text>
<path d="M1224.50,826.84v4.2" stroke="#2a2a2a" stroke-width="5.0" fill="none"/>
<text transform="translate(1224.30,866.40)" font-size="30" text-anchor="middle" fill="#000">0</text>
<path d="M1422.78,826.84v4.2" stroke="#2a2a2a" stroke-width="5.0" fill="none"/>
<text transform="translate(1423.38,866.40)" font-size="30" text-anchor="middle" fill="#000">500</text>
<path d="M1621.05,826.84v4.2" stroke="#2a2a2a" stroke-width="5.0" fill="none"/>
<text transform="translate(1621.85,866.40)" font-size="30" text-anchor="middle" fill="#000">1000</text>
<path d="M1819.32,826.84v4.2" stroke="#2a2a2a" stroke-width="5.0" fill="none"/>
<text transform="translate(1819.62,866.40)" font-size="30" text-anchor="middle" fill="#000">1500</text>
<path d="M2017.60,826.84v4.2" stroke="#2a2a2a" stroke-width="5.0" fill="none"/>
<text transform="translate(2018.10,866.40)" font-size="30" text-anchor="middle" fill="#000">2000</text>
<text transform="translate(1615.20,909.30) scale(1.0,1.02)" font-size="38.1" text-anchor="middle" fill="#000">Time (ms)</text>
<text transform="translate(1114.50,465.30) rotate(-90)" font-size="38" text-anchor="middle" fill="#000">Proportion Fixations</text>
</svg>
</body></html>
